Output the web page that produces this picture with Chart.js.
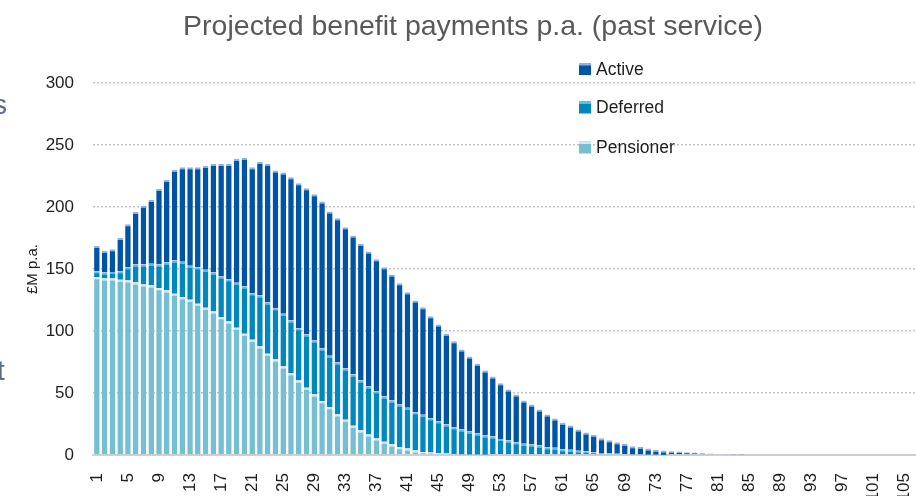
<!DOCTYPE html>
<html><head><meta charset="utf-8">
<script src="https://cdn.jsdelivr.net/npm/chart.js@4.4.1/dist/chart.umd.min.js"></script>
<style>
html,body{margin:0;padding:0;background:#fff;overflow:hidden;width:916px;height:496px}
#wrap{position:relative;width:916px;height:512px}
.frag{position:absolute;font-family:"Liberation Sans",Arial,sans-serif;font-size:28px;color:#5b6b80}
</style></head><body>
<div id="wrap"><canvas id="c" width="916" height="512"></canvas>
<span class="frag" style="left:-7px;top:89px">s</span>
<span class="frag" style="left:-3px;top:355px">t</span>
</div>
<script>
const categories = ['1','2','3','4','5','6','7','8','9','10','11','12','13','14','15','16','17','18','19','20',
'21','22','23','24','25','26','27','28','29','30','31','32','33','34','35','36','37','38','39','40',
'41','42','43','44','45','46','47','48','49','50','51','52','53','54','55','56','57','58','59','60',
'61','62','63','64','65','66','67','68','69','70','71','72','73','74','75','76','77','78','79','80',
'81','82','83','84','85','86','87','88','89','90','91','92','93','94','95','96','97','98','99','100',
'101','102','103','104','105','106'];

const pensioner = [143.4,142.3,142.3,141.3,140.7,139.1,137.5,136.7,134.5,132.7,
130,127.3,125.2,121.9,118.7,115.7,111.1,107.7,102.6,97.7,
92.9,87.5,81.6,77,71.4,66,60.1,54.2,48.8,43.4,
38.5,32.7,28.4,23.5,19.8,16.5,13.3,10.6,8.5,6.3,
5.2,3.6,2.3,2,1.5,1.2,0.8,0.5,0.3,0.2,
0.1,0,0,0,0,0,0,0,0,0,
0,0,0,0,0,0,0,0,0,0,
0,0,0,0,0,0,0,0,0,0,
0,0,0,0,0,0,0,0,0,0,
0,0,0,0,0,0,0,0,0,0,
0,0,0,0,0,0];

const deferred = [4.8,4.9,5.2,6.9,10.8,14.5,16.1,17.5,19.1,22.5,
26.8,28.5,27.4,29.6,30.7,31.5,32.9,34.1,36.3,38.2,
37.6,41.1,41.4,41.3,42.5,42.5,42.2,43,43.5,42.5,
41.5,41.9,41.4,41.4,40.3,38.7,38.2,36.6,35.5,34.4,
32.9,30.9,30.1,27.7,25.8,23.4,21.6,20.1,18.7,17.1,
15.6,14.9,13,11.7,10.3,9,8.5,7.7,6.3,5.8,
4.7,4.2,3.4,2.8,2.3,1.6,1.3,1,0.8,0.5,
0.4,0.3,0.2,0.1,0,0,0,0,0,0,
0,0,0,0,0,0,0,0,0,0,
0,0,0,0,0,0,0,0,0,0,
0,0,0,0,0,0];

const active = [20.3,17.3,18.5,26.8,34.5,42.4,47.4,51.4,60.9,66.6,
73,76.2,79.4,80.5,83.6,87.5,90.7,92.9,99.8,103.6,
101.5,107.7,111.7,111.2,113.9,115.5,116.9,118,118,118.5,
116.4,116.4,113.9,112.1,110.2,108.9,106.4,104.3,101.6,97.9,
93.2,90.1,86.8,82.2,77.9,73.1,69.4,64.4,60.4,56.2,
52.4,48.4,44.9,41.1,38.5,35,32.2,29,26.4,23.6,
21.3,19.6,17.2,15.3,14,11.9,10.6,9.3,8.2,6.6,
6.2,4.9,4,3.5,3,2.8,2.3,2,1.5,1.2,
0.8,0.5,0.3,0.2,0,0,0,0,0,0,
0,0,0,0,0,0,0,0,0,0,
0,0,0,0,0,0];

const xTickLabels = ['1','5','9','13','17','21','25','29','33','37','41','45','49','53','57','61','65','69','73','77','81','85','89','93','97','101','105'];
const yTickValues = [0,50,100,150,200,250,300];
const seriesNames = ['Pensioner','Deferred','Active'];
const chartTitle = 'Projected benefit payments p.a. (past service)';
const yAxisTitle = '£M p.a.';

const FONT = '"Liberation Sans", Arial, sans-serif';
const fills = {Pensioner:'#76BED4', Deferred:'#0087BF', Active:'#0054A6'};
const tops  = {Pensioner:'#D2EBF3', Deferred:'#63BCE0', Active:'#8DB2E0'};

const titlePlugin = {
  id:'customTitle',
  afterDraw(chart){
    const c = chart.ctx;
    c.save();
    c.font = '28.5px ' + FONT;
    c.fillStyle = '#595959';
    c.textAlign = 'center';
    c.textBaseline = 'alphabetic';
    c.fillText(chartTitle, 473, 35);
    c.restore();
  }
};

const legendPlugin = {
  id:'customLegend',
  afterDraw(chart){
    const c = chart.ctx;
    const order = ['Active','Deferred','Pensioner'];
    const rows = [69, 107.5, 147.5];
    c.save();
    c.font = '17.5px ' + FONT;
    c.textBaseline = 'middle';
    c.textAlign = 'left';
    order.forEach((name, i) => {
      const y = rows[i];
      c.fillStyle = fills[name];
      c.fillRect(579, y - 6, 12, 12);
      c.fillStyle = tops[name];
      c.fillRect(579, y - 6, 12, 2.5);
      c.fillStyle = '#1e1e1e';
      c.fillText(name, 596, y + 1);
    });
    c.restore();
  }
};

const seriesData = {Pensioner: pensioner, Deferred: deferred, Active: active};

new Chart(document.getElementById('c'), {
  type:'bar',
  data:{
    labels: categories,
    datasets: seriesNames.map(n => ({
      label:n,
      data:seriesData[n],
      backgroundColor:fills[n],
      borderColor:tops[n],
      borderWidth:{top:2,left:0,right:0,bottom:0},
      borderSkipped:false,
      categoryPercentage:1,
      barPercentage:0.72
    }))
  },
  options:{
    responsive:false,
    animation:false,
    devicePixelRatio:1,
    layout:{padding:{top:83,left:0,right:0,bottom:0}},
    plugins:{legend:{display:false}, title:{display:false}, tooltip:{enabled:false}},
    scales:{
      x:{
        stacked:true,
        grid:{display:false},
        border:{display:true,color:'#cfcfcf',width:2},
        afterFit(s){ s.height = 512 - 455; s.paddingLeft = 0; s.paddingRight = 0; },
        ticks:{
          autoSkip:false, minRotation:90, maxRotation:90, padding:10,
          color:'#1e1e1e', font:{size:17, family:FONT},
          callback(v){ const l = this.getLabelForValue(v); return xTickLabels.includes(l) ? l : ''; }
        }
      },
      y:{
        stacked:true, min:0, max:300,
        afterFit(s){ s.width = 93; },
        afterBuildTicks(s){ s.ticks = yTickValues.map(v => ({value:v})); },
        grid:{color:'#c4c4c4', lineWidth:1.5, drawTicks:false},
        border:{display:false, dash:[2,2]},
        ticks:{padding:19, color:'#1e1e1e', font:{size:17, family:FONT}},
        title:{display:true, text:yAxisTitle, color:'#1e1e1e', font:{size:15, family:FONT}, padding:{top:24,bottom:0}}
      }
    }
  },
  plugins:[titlePlugin, legendPlugin]
});
</script>
</body></html>
